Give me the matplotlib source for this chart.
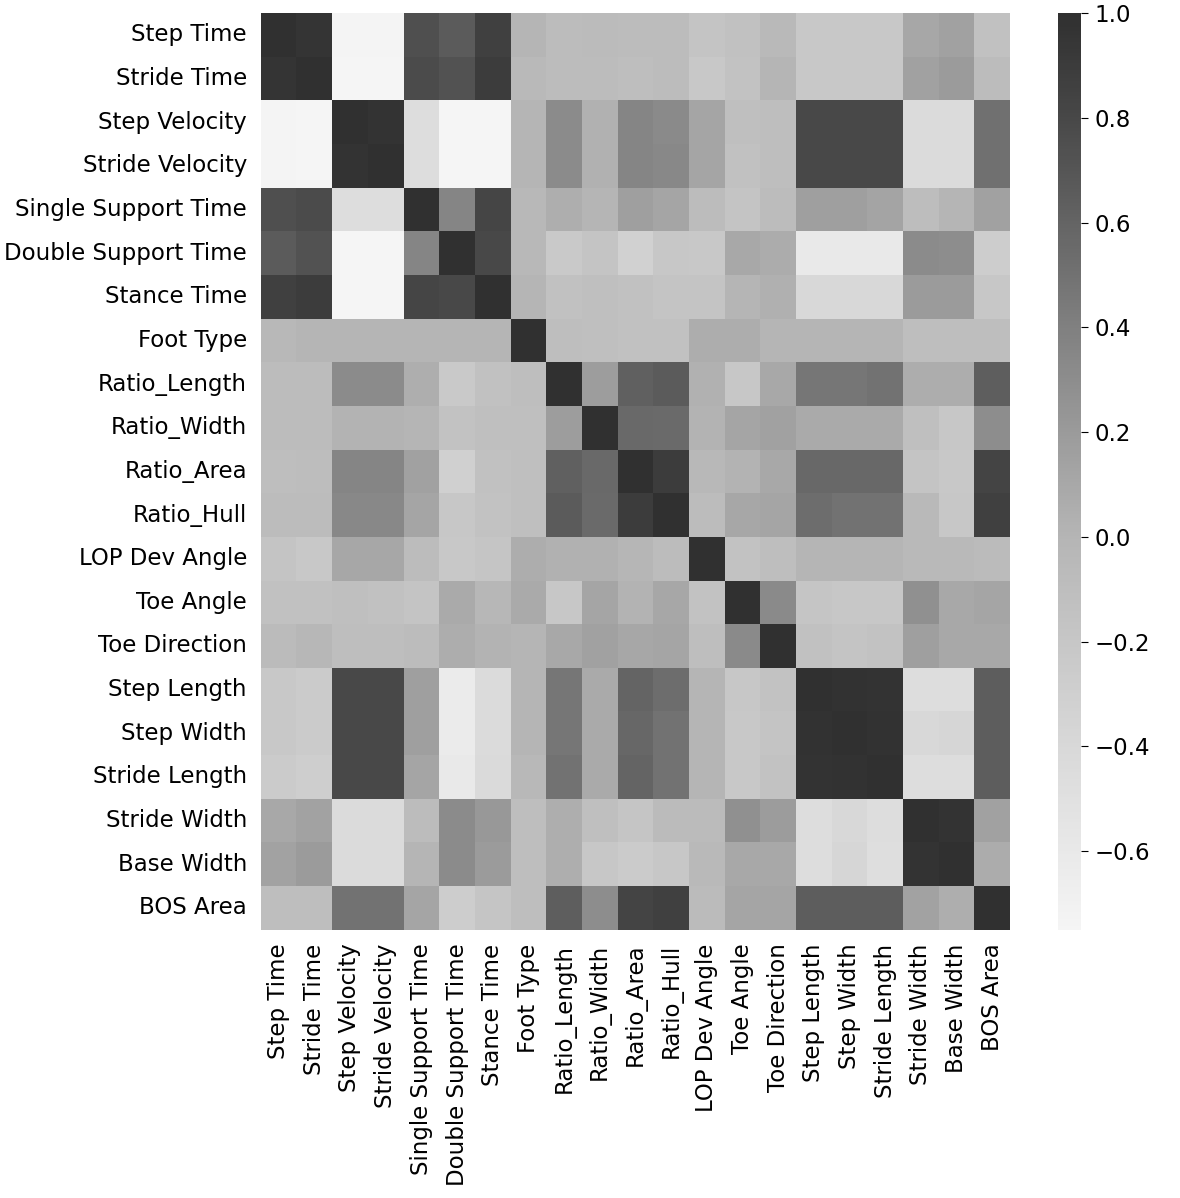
import matplotlib
matplotlib.use("Agg")
import matplotlib.pyplot as plt
from matplotlib.colors import LinearSegmentedColormap
import numpy as np
import pandas as pd
import seaborn as sns

labels = ["Step Time", "Stride Time", "Step Velocity", "Stride Velocity",
          "Single Support Time", "Double Support Time", "Stance Time", "Foot Type",
          "Ratio_Length", "Ratio_Width", "Ratio_Area", "Ratio_Hull", "LOP Dev Angle",
          "Toe Angle", "Toe Direction", "Step Length", "Step Width", "Stride Length",
          "Stride Width", "Base Width", "BOS Area"]

step_time = [1.0, 0.96, -0.74, -0.74, 0.75, 0.66, 0.86, 0.0, -0.08, -0.07, -0.08, -0.08, -0.17, -0.13, -0.05, -0.22, -0.22, -0.22, 0.11, 0.15, -0.13]
stride_time = [0.96, 1.0, -0.75, -0.76, 0.78, 0.72, 0.9, -0.04, -0.08, -0.08, -0.1, -0.08, -0.22, -0.15, 0.0, -0.22, -0.22, -0.22, 0.15, 0.2, -0.08]
step_velocity = [-0.74, -0.75, 1.0, 0.97, -0.45, -0.77, -0.77, 0.0, 0.32, 0.03, 0.36, 0.33, 0.12, -0.12, -0.1, 0.8, 0.8, 0.8, -0.43, -0.43, 0.51]
stride_velocity = [-0.74, -0.76, 0.97, 1.0, -0.45, -0.78, -0.78, 0.0, 0.32, 0.03, 0.36, 0.34, 0.12, -0.13, -0.1, 0.8, 0.8, 0.8, -0.43, -0.43, 0.51]
single_support = [0.75, 0.78, -0.45, -0.45, 1.0, 0.36, 0.82, -0.03, 0.05, 0.0, 0.16, 0.12, -0.08, -0.17, -0.08, 0.16, 0.16, 0.13, -0.09, 0.0, 0.15]
double_support = [0.66, 0.72, -0.77, -0.78, 0.36, 1.0, 0.8, -0.03, -0.23, -0.17, -0.32, -0.2, -0.22, 0.1, 0.07, -0.6, -0.6, -0.6, 0.32, 0.3, -0.27]
stance_time = [0.86, 0.9, -0.77, -0.78, 0.82, 0.8, 1.0, 0.0, -0.14, -0.12, -0.13, -0.17, -0.17, 0.0, 0.04, -0.4, -0.4, -0.4, 0.2, 0.2, -0.2]
foot_type = [-0.03, 0.0, 0.0, 0.0, 0.0, 0.0, 0.0, 1.0, -0.1, -0.12, -0.13, -0.13, 0.06, 0.06, 0.0, 0.0, 0.0, 0.0, -0.1, -0.1, -0.1]
ratio_length = [-0.08, -0.08, 0.32, 0.32, 0.05, -0.23, -0.14, -0.1, 1.0, 0.18, 0.63, 0.66, 0.03, -0.2, 0.1, 0.47, 0.47, 0.5, 0.06, 0.06, 0.64]
ratio_width = [-0.08, -0.08, 0.02, 0.02, 0.0, -0.15, -0.12, -0.11, 0.18, 1.0, 0.56, 0.55, 0.02, 0.12, 0.15, 0.08, 0.08, 0.08, -0.11, -0.2, 0.3]
ratio_area = [-0.1, -0.09, 0.36, 0.36, 0.15, -0.3, -0.13, -0.12, 0.63, 0.56, 1.0, 0.9, -0.03, 0.02, 0.1, 0.57, 0.57, 0.57, -0.17, -0.22, 0.83]
ratio_hull = [-0.08, -0.08, 0.34, 0.34, 0.12, -0.2, -0.15, -0.12, 0.66, 0.55, 0.9, 1.0, -0.08, 0.11, 0.12, 0.53, 0.5, 0.5, -0.05, -0.2, 0.87]
lop_dev_angle = [-0.17, -0.22, 0.11, 0.11, -0.08, -0.22, -0.18, 0.06, 0.03, 0.03, -0.01, -0.08, 1.0, -0.15, -0.1, 0.0, 0.0, 0.0, -0.05, -0.05, -0.07]
toe_angle = [-0.13, -0.14, -0.12, -0.13, -0.17, 0.08, -0.02, 0.08, -0.2, 0.12, 0.02, 0.11, -0.15, 1.0, 0.33, -0.18, -0.2, -0.2, 0.28, 0.1, 0.12]
toe_direction = [-0.06, -0.02, -0.1, -0.1, -0.08, 0.06, 0.02, 0.0, 0.1, 0.15, 0.11, 0.12, -0.1, 0.33, 1.0, -0.14, -0.17, -0.15, 0.17, 0.1, 0.1]
step_length = [-0.22, -0.25, 0.8, 0.8, 0.16, -0.63, -0.43, 0.0, 0.47, 0.08, 0.6, 0.53, 0.0, -0.2, -0.15, 1.0, 0.98, 0.97, -0.45, -0.45, 0.65]
step_width = [-0.22, -0.25, 0.8, 0.8, 0.16, -0.63, -0.43, 0.0, 0.47, 0.08, 0.58, 0.5, 0.0, -0.22, -0.17, 0.98, 1.0, 0.98, -0.4, -0.37, 0.65]
stride_length = [-0.25, -0.28, 0.8, 0.8, 0.12, -0.6, -0.42, -0.03, 0.5, 0.08, 0.6, 0.5, 0.0, -0.22, -0.15, 0.97, 0.98, 1.0, -0.45, -0.45, 0.65]
stride_width = [0.1, 0.14, -0.43, -0.43, -0.08, 0.32, 0.22, -0.1, 0.05, -0.12, -0.18, -0.06, -0.06, 0.28, 0.19, -0.45, -0.4, -0.45, 1.0, 0.97, 0.15]
base_width = [0.14, 0.2, -0.43, -0.43, 0.0, 0.31, 0.2, -0.1, 0.05, -0.2, -0.25, -0.2, -0.05, 0.1, 0.1, -0.45, -0.37, -0.47, 0.97, 1.0, 0.07]
bos_area = [-0.1, -0.1, 0.5, 0.5, 0.12, -0.27, -0.18, -0.1, 0.64, 0.3, 0.83, 0.87, -0.06, 0.12, 0.12, 0.65, 0.65, 0.65, 0.14, 0.05, 1.0]

rows = [step_time, stride_time, step_velocity, stride_velocity, single_support,
        double_support, stance_time, foot_type, ratio_length, ratio_width,
        ratio_area, ratio_hull, lop_dev_angle, toe_angle, toe_direction,
        step_length, step_width, stride_length, stride_width, base_width, bos_area]
corr = pd.DataFrame(np.array(rows), index=labels, columns=labels)

# grey ramp
grey = LinearSegmentedColormap.from_list("grey", [
    (0.0, "#f5f5f5"), (0.2, "#d8d8d8"), (0.4286, "#b5b5b5"),
    (0.6571, "#808080"), (0.8857, "#484848"), (1.0, "#303030")])

fig = plt.figure(figsize=(11.8, 11.98), dpi=100)
ax = fig.add_axes([0.221, 0.224, 0.635, 0.765])
cax = fig.add_axes([0.897, 0.224, 0.019, 0.765])
sns.heatmap(corr, ax=ax, cbar_ax=cax, cmap=grey, vmin=-0.75, vmax=1.0,
            xticklabels=True, yticklabels=True)
ax.tick_params(labelsize=16.5, length=0, pad=10)
cax.tick_params(labelsize=16.5, length=5, pad=5)
plt.setp(ax.get_xticklabels(), rotation=90)
plt.setp(ax.get_yticklabels(), rotation=0)
cax.set_yticks([-0.6, -0.4, -0.2, 0.0, 0.2, 0.4, 0.6, 0.8, 1.0])
fig.savefig("out.png", dpi=100)
